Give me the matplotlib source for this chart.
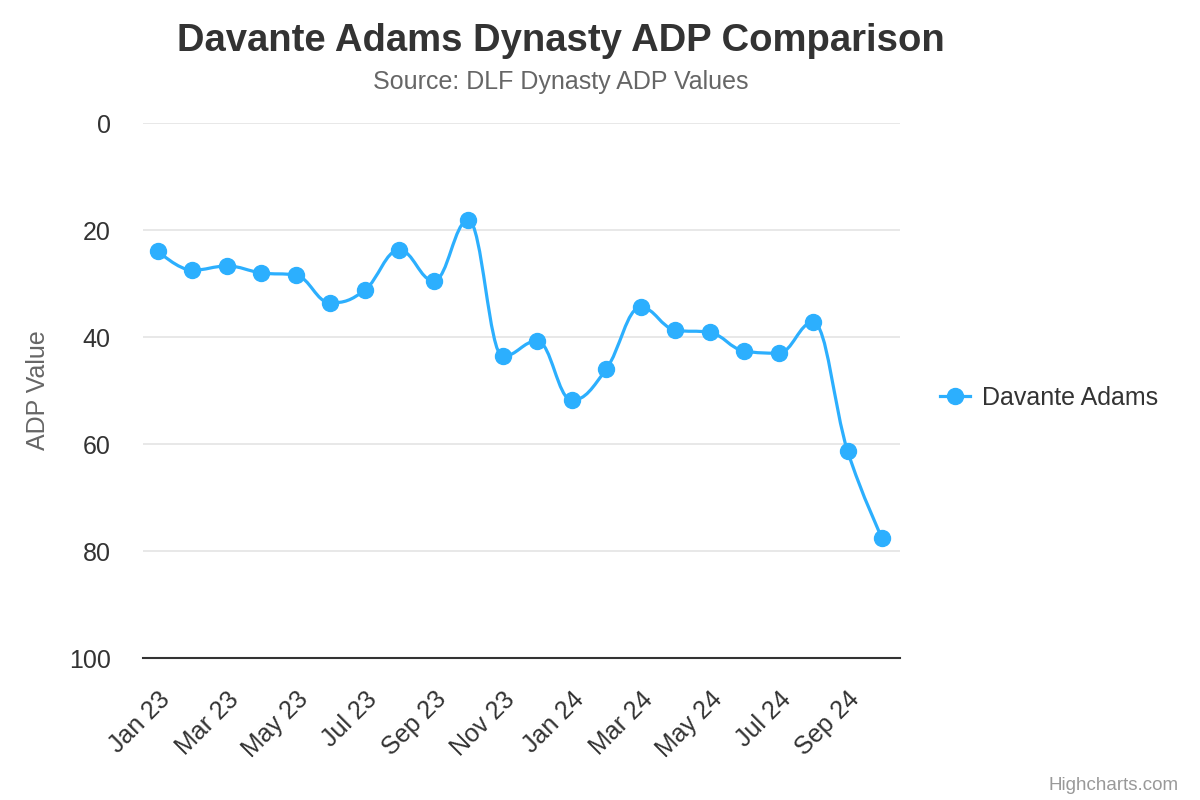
import numpy as np
import matplotlib.pyplot as plt
from matplotlib.path import Path
from matplotlib.patches import PathPatch
from matplotlib.lines import Line2D

plt.rcParams["font.family"] = ["Liberation Sans", "DejaVu Sans"]

months = ["Jan 23", "Feb 23", "Mar 23", "Apr 23", "May 23", "Jun 23", "Jul 23", "Aug 23",
          "Sep 23", "Oct 23", "Nov 23", "Dec 23", "Jan 24", "Feb 24", "Mar 24", "Apr 24",
          "May 24", "Jun 24", "Jul 24", "Aug 24", "Sep 24", "Oct 24"]
adp = [23.9, 27.5, 26.7, 28.0, 28.4, 33.6, 31.2, 23.7, 29.5, 18.1, 43.6, 40.7,
       51.8, 46.0, 34.4, 38.7, 39.1, 42.6, 43.0, 37.2, 61.3, 77.6]
tick_labels = months[::2]

color = "#2caffe"


def spline_path(xs, ys, smoothing=1.5):
    # highcharts-style spline: bezier control points per point
    n = len(xs)
    left = [None] * n
    right = [None] * n
    denom = smoothing + 1
    for i in range(1, n - 1):
        px, py = xs[i], ys[i]
        lx, ly = xs[i - 1], ys[i - 1]
        nx, ny = xs[i + 1], ys[i + 1]
        lcx = (smoothing * px + lx) / denom
        lcy = (smoothing * py + ly) / denom
        rcx = (smoothing * px + nx) / denom
        rcy = (smoothing * py + ny) / denom
        corr = (rcy - lcy) * (rcx - px) / (rcx - lcx) + py - rcy
        lcy += corr
        rcy += corr
        if lcy > ly and lcy > py:
            lcy = max(ly, py)
            rcy = 2 * py - lcy
        elif lcy < ly and lcy < py:
            lcy = min(ly, py)
            rcy = 2 * py - lcy
        if rcy > ny and rcy > py:
            rcy = max(ny, py)
            lcy = 2 * py - rcy
        elif rcy < ny and rcy < py:
            rcy = min(ny, py)
            lcy = 2 * py - rcy
        left[i] = (lcx, lcy)
        right[i] = (rcx, rcy)
    verts = [(xs[0], ys[0])]
    codes = [Path.MOVETO]
    for i in range(1, n):
        c1 = right[i - 1] if right[i - 1] else (xs[i - 1], ys[i - 1])
        c2 = left[i] if left[i] else (xs[i], ys[i])
        verts += [c1, c2, (xs[i], ys[i])]
        codes += [Path.CURVE4] * 3
    return Path(verts, codes)


x = np.arange(len(adp))

fig = plt.figure(figsize=(12, 8), dpi=100)
ax = fig.add_axes([0.119, 0.1775, 0.631, 0.6685])

ax.add_patch(PathPatch(spline_path(list(x), adp), fill=False, edgecolor=color, linewidth=2.3,
                       capstyle="round", joinstyle="round", zorder=3))
ax.plot(x, adp, linestyle="None", marker="o", markersize=11.5, color=color, zorder=4)

ax.set_xlim(-0.44, 21.52)
ax.set_ylim(100, 0)
ax.set_yticks([0, 20, 40, 60, 80, 100])
ax.set_xticks(x[::2])
ax.set_xticklabels(tick_labels, rotation=45, ha="right", va="top", rotation_mode="anchor")

ax.grid(axis="y", color="#e6e6e6", linewidth=1.3)
ax.set_axisbelow(True)
for s in ["top", "left", "right"]:
    ax.spines[s].set_visible(False)
ax.spines["bottom"].set_color("#333333")
ax.spines["bottom"].set_linewidth(1.5)
ax.tick_params(axis="y", length=0, pad=23, labelsize=18, labelcolor="#333333")
ax.tick_params(axis="x", length=0, pad=21, labelsize=18, labelcolor="#333333")
for t in ax.get_yticklabels():
    t.set_horizontalalignment("right")

ax.set_ylabel("ADP Value", fontsize=18, color="#666666", labelpad=14)

fig.text(0.467, 0.949, "Davante Adams Dynasty ADP Comparison", ha="center", va="center",
         fontsize=27.5, fontweight="bold", color="#333333")
fig.text(0.467, 0.898, "Source: DLF Dynasty ADP Values", ha="center", va="center",
         fontsize=18, color="#666666")

handle = Line2D([], [], color=color, linewidth=2.3, marker="o", markersize=11.5)
fig.legend([handle], ["Davante Adams"], loc="center left", bbox_to_anchor=(0.783, 0.503),
           frameon=False, fontsize=18, handlelength=1.2, handletextpad=0.5,
           borderaxespad=0, borderpad=0, labelcolor="#333333")

fig.text(0.982, 0.008, "Highcharts.com", ha="right", va="bottom", fontsize=13.5, color="#999999")

fig.savefig("out.png", dpi=100)
